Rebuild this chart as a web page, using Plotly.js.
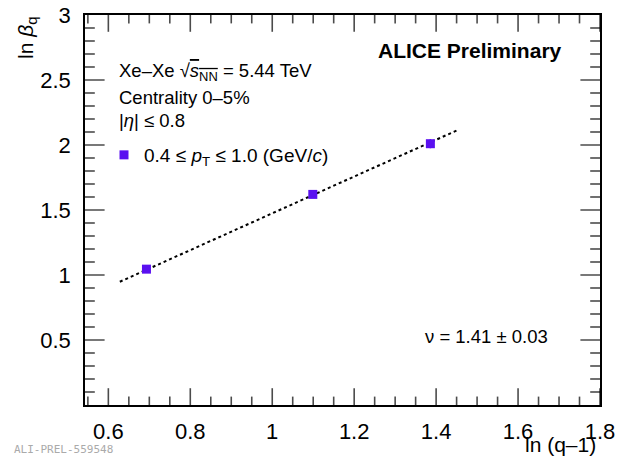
<!DOCTYPE html>
<html>
<head>
<meta charset="utf-8">
<script src="https://cdn.plot.ly/plotly-3.0.1.min.js"></script>
<style>html,body{margin:0;padding:0;background:#fff;}#chart{width:617px;height:456px;}</style>
</head>
<body>
<div id="chart"></div>
<script>
// Data
const lnQm1 = [0.693, 1.099, 1.386];
const lnBeta = [1.045, 1.62, 2.01];
const lnBetaErr = [0.01, 0.012, 0.035];
const fitX = [0.628, 1.452];
const fitY = [0.948, 2.114];
const seriesName = "0.4 ≤ <i>p</i><sub>T</sub> ≤ 1.0 (GeV/<i>c</i>)";
const xTickVals = [0.6, 0.8, 1, 1.2, 1.4, 1.6, 1.8];
const xTickText = ["0.6", "0.8", "1", "1.2", "1.4", "1.6", "1.8"];
const yTickVals = [0.5, 1, 1.5, 2, 2.5, 3];
const yTickText = ["0.5", "1", "1.5", "2", "2.5", "3"];

const FONT = "Liberation Sans, Arial, Helvetica, sans-serif";
const L = 85, R = 600, T = 15, B = 405;
const W = R - L, H = B - T;
const XR = [0.543, 1.8], YR = [0, 3];
const px = x => (x - L) / W;
const py = y => (B - y) / H;

// Tick positions (axis decoration): major and minor
const xMinor = [], yMinor = [];
for (let i = 0; i <= 25; i++) xMinor.push(+(0.55 + i * 0.05).toFixed(2));
for (let i = 1; i < 30; i++) yMinor.push(+(i * 0.1).toFixed(1));
const isMajX = v => xTickVals.indexOf(v) >= 0;
const isMajY = v => yTickVals.indexOf(v) >= 0;

// Ticks drawn as line markers centred on the frame; the outer half is clipped by the plot area
function tickTrace(xs, ys, sizes, symbol) {
  return {
    x: xs, y: ys, type: "scatter", mode: "markers", cliponaxis: true,
    marker: {symbol: symbol, size: sizes, color: "#000", line: {color: "#000", width: 1.6}},
    showlegend: false, hoverinfo: "skip"
  };
}
const bx = [], by = [], bs = [];
xMinor.forEach(v => {
  const s = isMajX(v) ? 24 : 12;
  bx.push(v, v); by.push(YR[0], YR[1]); bs.push(s, s);
});
const lx = [], ly = [], ls = [];
yMinor.forEach(v => {
  const s = isMajY(v) ? 28 : 14;
  lx.push(XR[0], XR[1]); ly.push(v, v); ls.push(s, s);
});

const traces = [
  tickTrace(bx, by, bs, "line-ns"),
  tickTrace(lx, ly, ls, "line-ew"),
  {
    x: fitX, y: fitY, mode: "lines", type: "scatter",
    line: {color: "#000", width: 2, dash: "3px,3px"},
    showlegend: false, hoverinfo: "skip"
  },
  {
    x: lnQm1, y: lnBeta, mode: "markers", type: "scatter",
    name: seriesName,
    marker: {symbol: "square", size: 9, color: "#5a10f0"},
    error_y: {type: "data", array: lnBetaErr, visible: true, color: "#5a10f0", thickness: 1.5, width: 0}
  }
];

const annots = [
  {text: "<b>ALICE Preliminary</b>", x: px(564), y: py(50), xanchor: "right", yanchor: "middle", size: 21},
  {text: "Xe–Xe √<span style='text-decoration:overline'><i>s</i><sub>NN</sub></span> = 5.44 TeV", x: px(117), y: py(72), xanchor: "left", yanchor: "middle", size: 18.5},
  {text: "Centrality 0–5%", x: px(117), y: py(97), xanchor: "left", yanchor: "middle", size: 18.5},
  {text: "|<i>η</i>| ≤ 0.8", x: px(117), y: py(120), xanchor: "left", yanchor: "middle", size: 18.5},
  {text: "ν = 1.41 ± 0.03", x: px(423), y: py(336), xanchor: "left", yanchor: "middle", size: 18.5},
  {text: "ln (q–1)", x: px(598), y: py(444), xanchor: "right", yanchor: "middle", size: 21},
  {text: "ln <i>β</i><sub>q</sub>", x: px(27), y: py(38), xanchor: "center", yanchor: "middle", size: 21, textangle: -90},
  {text: "ALI-PREL-559548", x: px(12), y: py(449), xanchor: "left", yanchor: "middle", size: 11, color: "#aaaaaa", family: "DejaVu Sans Mono, monospace"}
].map(a => ({
  text: a.text, x: a.x, y: a.y, xref: "paper", yref: "paper",
  xanchor: a.xanchor, yanchor: a.yanchor, showarrow: false,
  textangle: a.textangle || 0,
  font: {family: a.family || FONT, size: a.size, color: a.color || "#000"}
}));

const layout = {
  width: 617, height: 456,
  margin: {l: L, r: 617 - R, t: T, b: 456 - B, pad: 0},
  paper_bgcolor: "#fff", plot_bgcolor: "#fff",
  font: {family: FONT, color: "#000", size: 20},
  showlegend: true,
  legend: {x: px(104), y: py(155), xanchor: "left", yanchor: "middle", bgcolor: "rgba(0,0,0,0)",
           font: {family: FONT, size: 19}, itemwidth: 30},
  xaxis: {
    range: XR, showgrid: false, zeroline: false,
    showline: true, linecolor: "#000", linewidth: 1.6, mirror: true,
    ticks: "", tickmode: "array", tickvals: xTickVals, ticktext: xTickText,
    ticklabelstandoff: 6, tickfont: {size: 22, family: FONT}
  },
  yaxis: {
    range: YR, showgrid: false, zeroline: false,
    showline: true, linecolor: "#000", linewidth: 1.6, mirror: true,
    ticks: "", tickmode: "array", tickvals: yTickVals, ticktext: yTickText,
    ticklabelstandoff: 8, tickfont: {size: 22, family: FONT}
  },
  annotations: annots
};

Plotly.newPlot("chart", traces, layout, {displayModeBar: false});
</script>
</body>
</html>
